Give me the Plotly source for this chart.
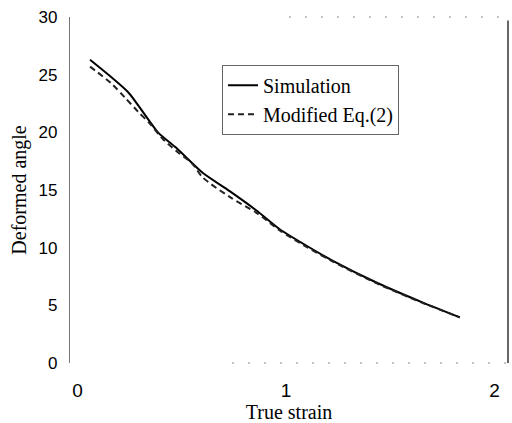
import plotly.graph_objects as go

# Data
strain_sim = [0.06, 0.242, 0.386, 0.477, 0.60, 0.73, 0.86, 0.97, 1.105, 1.225, 1.436, 1.657, 1.834]
angle_sim = [26.3, 23.5, 20.0, 18.6, 16.5, 14.9, 13.2, 11.6, 10.1, 8.86, 6.96, 5.24, 3.96]

strain_eq = [0.06, 0.165, 0.228, 0.29, 0.35, 0.41, 0.48, 0.55, 0.60, 0.73, 0.86, 0.97, 1.105, 1.225, 1.436, 1.657, 1.834]
angle_eq = [25.7, 24.2, 23.0, 21.8, 20.7, 19.4, 18.3, 17.3, 16.1, 14.4, 13.0, 11.5, 10.0, 8.8, 6.9, 5.2, 3.96]

x_ticks = [0, 1, 2]
y_ticks = [0, 5, 10, 15, 20, 25, 30]

serif = "Liberation Serif, Times New Roman, serif"
sans = "Liberation Sans, Arial, sans-serif"

fig = go.Figure()
fig.add_trace(go.Scatter(x=strain_sim, y=angle_sim, mode="lines", name="Simulation",
                         line=dict(color="black", width=2, shape="spline", smoothing=0.6)))
fig.add_trace(go.Scatter(x=strain_eq, y=angle_eq, mode="lines", name="Modified Eq.(2)",
                         line=dict(color="#222222", width=2, dash="6px,4px", shape="spline", smoothing=0.8)))

fig.update_layout(
    width=512, height=423,
    margin=dict(l=70, r=4, t=17, b=57),
    paper_bgcolor="white", plot_bgcolor="white",
    showlegend=True,
    legend=dict(x=0.347, y=0.862, xanchor="left", yanchor="top",
                font=dict(family=serif, size=20, color="black"),
                bgcolor="white", bordercolor="#666666", borderwidth=1,
                tracegroupgap=0),
    xaxis=dict(range=[-0.036, 2.065], tickvals=x_ticks, showgrid=False, zeroline=False,
               showline=False, ticks="", tickfont=dict(family=sans, size=19, color="black"),
               title=dict(text="True strain", font=dict(family=serif, size=20, color="black"), standoff=4),
               ticklabelstandoff=14),
    yaxis=dict(range=[0, 30], tickvals=y_ticks, showgrid=False, zeroline=False,
               showline=True, linecolor="#777777", linewidth=1.2, ticks="",
               tickfont=dict(family=sans, size=17, color="black"),
               title=dict(text="Deformed angle", font=dict(family=serif, size=20, color="black"), standoff=6),
               ticklabelstandoff=8),
)

# right frame line and faint dotted top/bottom borders (scan look)
fig.add_shape(type="line", xref="paper", yref="paper", x0=1, x1=1, y0=0, y1=0.99,
              line=dict(color="black", width=1.2))
fig.add_shape(type="line", xref="paper", yref="paper", x0=0.5, x1=1, y0=1, y1=1,
              line=dict(color="#888888", width=1, dash="2px,14px"))
fig.add_shape(type="line", xref="paper", yref="paper", x0=0.37, x1=1, y0=0, y1=0,
              line=dict(color="#888888", width=1, dash="2px,14px"))

fig.write_html("out.html")
